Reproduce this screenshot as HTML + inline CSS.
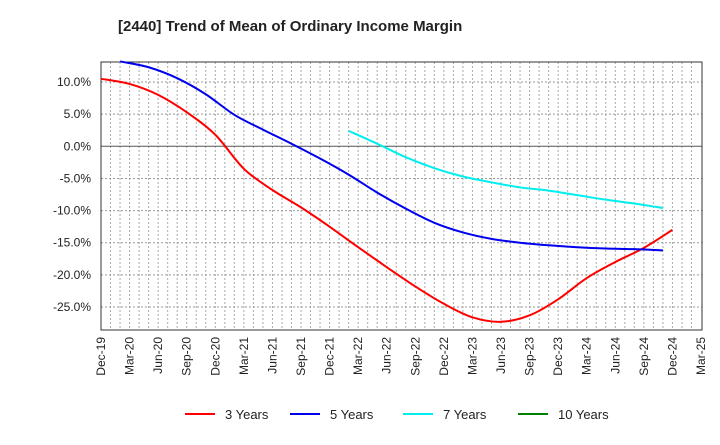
<!DOCTYPE html>
<html><head><meta charset="utf-8"><style>
body{margin:0;background:#fff;font-family:"Liberation Sans",sans-serif;}
svg text{font-family:"Liberation Sans",sans-serif;}
</style></head><body>
<svg id="c" width="720" height="440" xmlns="http://www.w3.org/2000/svg">
<text x="118" y="31" font-size="15" font-weight="bold" fill="#222">[2440]  Trend of Mean of Ordinary Income Margin</text>
<g id="grid"></g><g id="axes"></g><g id="series"></g><g id="legend"></g>
</svg>
<script>
const xLabels=["Dec-19","Mar-20","Jun-20","Sep-20","Dec-20","Mar-21","Jun-21","Sep-21","Dec-21","Mar-22","Jun-22","Sep-22","Dec-22","Mar-23","Jun-23","Sep-23","Dec-23","Mar-24","Jun-24","Sep-24","Dec-24","Mar-25"];
const yTicks=[10,5,0,-5,-10,-15,-20,-25];
const s3Start=0;
const s3=[10.5,9.7,8,5.3,1.8,-3.5,-6.8,-9.5,-12.5,-15.7,-18.8,-21.8,-24.5,-26.6,-27.3,-26.3,-23.8,-20.5,-18.0,-15.8,-13.0];
const s5Start=2/3;
const s5=[13.2,12.3,10.6,8.1,4.9,2.6,0.4,-1.9,-4.4,-7.2,-9.7,-11.9,-13.4,-14.4,-15.0,-15.4,-15.7,-15.9,-16.0,-16.2];
const s7Start=9-1/3;
const s7=[2.4,0.4,-1.7,-3.4,-4.7,-5.6,-6.4,-6.9,-7.6,-8.3,-8.9,-9.6];
const s10Start=0;
const s10=[];
const L=101,R=702,T=62,B=330;
const xq=i=>L+i*(R-L-1)/21;
const y=v=>146.3-v*32.14/5;
const NS="http://www.w3.org/2000/svg";
function mk(p,t,a){const e=document.createElementNS(NS,t);for(const k in a)e.setAttribute(k,a[k]);p.appendChild(e);return e;}
const g=document.getElementById('grid'),ax=document.getElementById('axes'),se=document.getElementById('series'),lg=document.getElementById('legend');
for(let m=1;m<63;m++){const x=L+m*(R-L-1)/63;
const e=mk(g,'line',{x1:x,x2:x,y1:T,y2:B,stroke:'#aaa','stroke-dasharray':'2,2','stroke-width':1});

}
yTicks.forEach(v=>{const e=mk(g,'line',{x1:L,x2:R,y1:y(v),y2:y(v),stroke:v===0?'#555':'#999','stroke-dasharray':v===0?'':'2,2','stroke-width':1});


const t=mk(ax,'text',{x:91,y:y(v)+4,'font-size':12,'text-anchor':'end',fill:'#222'});t.textContent=v.toFixed(1)+'%';

});
const bx=mk(ax,'rect',{x:L,y:T,width:R-L,height:B-T,fill:'none',stroke:'#333','stroke-width':1});


xLabels.forEach((l,i)=>{const x=xq(i);const t=mk(ax,'text',{transform:`translate(${x+4},337) rotate(-90)`,'font-size':12,'text-anchor':'end',fill:'#222'});t.textContent=l;

});
function path(arr,st){const p=arr.map((v,i)=>[xq(st+i),y(v)]);if(!p.length)return'';let d=`M${p[0][0]},${p[0][1]}`;
for(let i=0;i<p.length-1;i++){const p0=p[i-1]||p[i],p1=p[i],p2=p[i+1],p3=p[i+2]||p2;
d+=` C${p1[0]+(p2[0]-p0[0])/6},${p1[1]+(p2[1]-p0[1])/6} ${p2[0]-(p3[0]-p1[0])/6},${p2[1]-(p3[1]-p1[1])/6} ${p2[0]},${p2[1]}`;}return d;}
[[s3,s3Start,'#ff0000','series-3-years'],[s5,s5Start,'#0000ee','series-5-years'],[s7,s7Start,'#00eeee','series-7-years'],[s10,s10Start,'#008000','series-10-years']].forEach(([a,s,c,n])=>{
if(!a.length)return;const e=mk(se,'path',{d:path(a,s),fill:'none',stroke:c,'stroke-width':2});

});
[['3 Years','#ff0000',185],['5 Years','#0000ee',290],['7 Years','#00eeee',403],['10 Years','#008000',518]].forEach(([n,c,x])=>{
const l=mk(lg,'line',{x1:x,x2:x+30,y1:414,y2:414,stroke:c,'stroke-width':2});


const t=mk(lg,'text',{x:x+40,y:419,'font-size':13,fill:'#222'});t.textContent=n;

});
</script>
</body></html>
